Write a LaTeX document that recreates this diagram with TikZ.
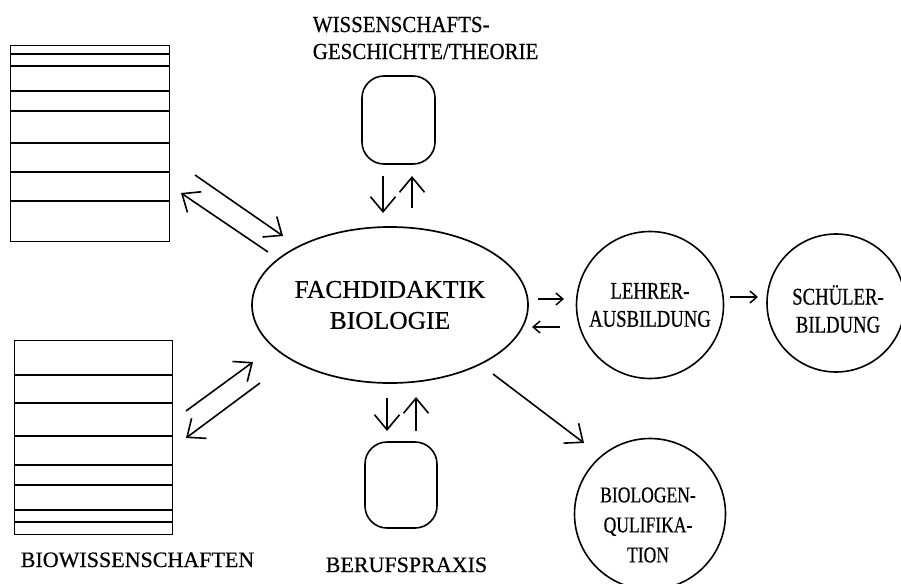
\documentclass[tikz,border=0pt]{standalone}
\usepackage{fontspec}
\setmainfont[FakeBold=0.5]{Liberation Serif}
\newfontfamily\condfont[FakeStretch=0.78,FakeBold=0.5]{Liberation Serif}
\newfontfamily\semicond[FakeStretch=0.91,FakeBold=0.5]{Liberation Serif}
\usetikzlibrary{arrows.meta,shapes.geometric}
\begin{document}
\begin{tikzpicture}[x=1pt,y=-1pt,line width=1.6pt,
  bigarr/.style={-{Straight Barb[length=15pt,width=25pt,line width=1.6pt]}},
  smallarr/.style={-{Straight Barb[length=7pt,width=12pt,line width=1.5pt]}},
  stripebox/.style={draw,line width=1.4pt,inner sep=0pt,anchor=north west},
  roundbox/.style={draw,line width=1.6pt,rounded corners=22pt,inner sep=0pt},
  circ/.style={draw,circle,line width=1.6pt,inner sep=0pt},
  lbl/.style={font=\fontsize{22}{26}\selectfont,inner sep=0pt},
  ctext/.style={font=\condfont\fontsize{24}{28}\selectfont,align=center,inner sep=0pt}]
\useasboundingbox (0,0) rectangle (901,583);

% striped boxes
\node[stripebox,minimum width=159pt,minimum height=196pt] (bw1) at (10,45) {};
\foreach \yy in {54,66,91,111,143,172,201}
  \draw[line width=1.5pt] (10,\yy) -- (169,\yy);
\node[stripebox,minimum width=158pt,minimum height=194pt] (bw2) at (14,340) {};
\foreach \yy in {375,403,436,465,485,510,522}
  \draw[line width=1.5pt] (14,\yy) -- (172,\yy);

% central ellipse
\node[draw,ellipse,line width=1.7pt,minimum width=276pt,minimum height=156pt,inner sep=0pt,
  align=center,font=\fontsize{25.5}{31}\selectfont] (fd) at (390,305) {FACHDIDAKTIK\\BIOLOGIE};

% rounded boxes
\node[roundbox,minimum width=73pt,minimum height=88pt] (wg) at (398.5,120) {};
\node[roundbox,minimum width=72pt,minimum height=86pt] (bp) at (401,485) {};

% circles
\node[circ,minimum size=147pt,ctext] (la) at (650,305) {LEHRER-\\AUSBILDUNG};
\node[circ,minimum size=138pt] (sb) at (836,303) {};
\node[ctext] (sbt) at (838,309) {SCHÜLER-\\BILDUNG};
\node[circ,minimum size=151pt] (bq) at (650,514) {};
\node[ctext,font=\condfont\fontsize{22.5}{30}\selectfont] (bqt) at (648,525) {BIOLOGEN-\\QULIFIKA-\\TION};

% labels
\node[lbl,font=\semicond\fontsize{23}{27}\selectfont,align=left,anchor=north west] (wgl) at (312,16)
  {WISSENSCHAFTS-\\GESCHICHTE/THEORIE};
\node[lbl,anchor=base west] (bwl) at (20,567) {BIOWISSENSCHAFTEN};
\node[lbl,anchor=base west] (bpl) at (325,572) {BERUFSPRAXIS};

% arrow end points
\coordinate (p1) at (195,175); \coordinate (q1) at (283,236);
\coordinate (p2) at (268,252); \coordinate (q2) at (181,193);
\coordinate (p3) at (186,411); \coordinate (q3) at (253,362);
\coordinate (p4) at (260,383); \coordinate (q4) at (186,438);
\coordinate (p5) at (383,176); \coordinate (q5) at (383,213);
\coordinate (p6) at (412,208); \coordinate (q6) at (412,176);
\coordinate (p7) at (387,398); \coordinate (q7) at (387,431);
\coordinate (p8) at (416,431); \coordinate (q8) at (416,397);
\coordinate (p9) at (493,374); \coordinate (q9) at (584,443);
\coordinate (p10) at (538,299); \coordinate (q10) at (564,299);
\coordinate (p11) at (560,327); \coordinate (q11) at (532,327);
\coordinate (p12) at (730,297); \coordinate (q12) at (758,297);

\draw[bigarr] (p1) -- (q1);
\draw[bigarr] (p2) -- (q2);
\draw[bigarr] (p3) -- (q3);
\draw[bigarr] (p4) -- (q4);
\draw[bigarr] (p5) -- (q5);
\draw[bigarr] (p6) -- (q6);
\draw[bigarr] (p7) -- (q7);
\draw[bigarr] (p8) -- (q8);
\draw[bigarr] (p9) -- (q9);
\draw[smallarr] (p10) -- (q10);
\draw[smallarr] (p11) -- (q11);
\draw[smallarr] (p12) -- (q12);
\end{tikzpicture}
\end{document}
